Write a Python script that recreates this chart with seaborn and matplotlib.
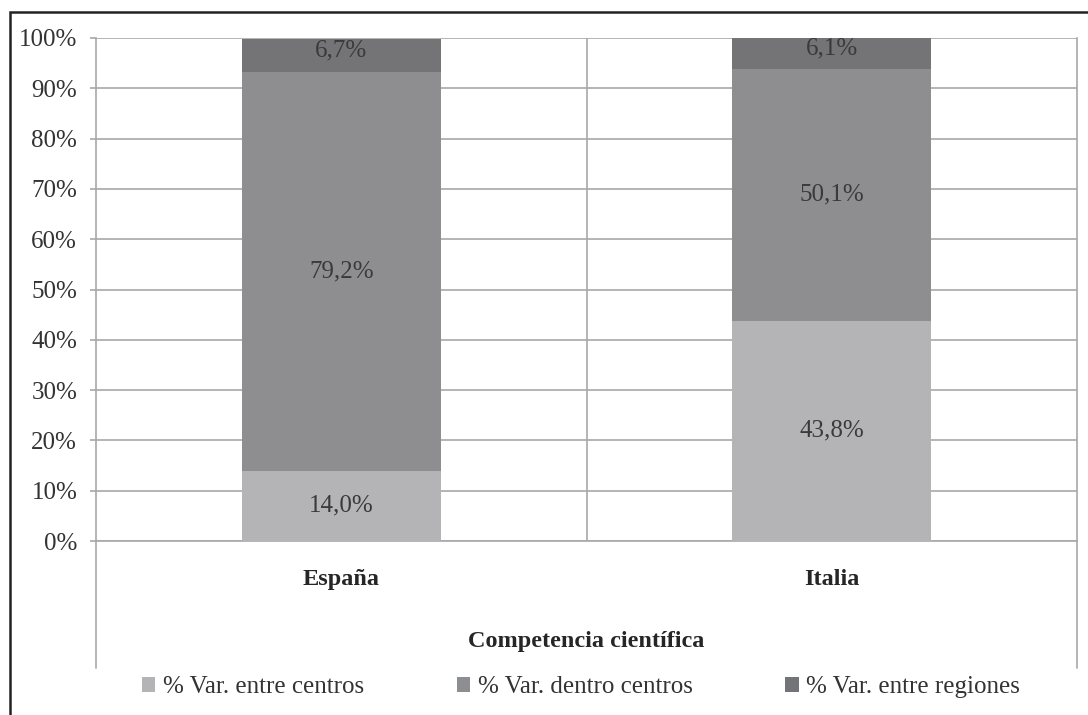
import matplotlib
matplotlib.use("Agg")
import matplotlib.pyplot as plt
from matplotlib.patches import Rectangle, Patch
from matplotlib.lines import Line2D
import seaborn as sns
import pandas as pd

# Variance decomposition (%) of science competence, by country
paises = ["España", "Italia"]
entre_centros = [14.0, 43.8]
dentro_centros = [79.2, 50.1]
entre_regiones = [6.7, 6.1]
series = ["% Var. entre centros", "% Var. dentro centros", "% Var. entre regiones"]
eje_titulo = "Competencia científica"
yticks = list(range(0, 101, 10))

colores = ["#b4b4b6", "#8d8e92", "#737478"]
gris_linea = "#a8a8a8"
W, H = 1088, 715
FS = 18

sns.set_theme(style="white")
plt.rcParams["font.family"] = ["Liberation Serif", "DejaVu Serif"]

df = pd.DataFrame({
    "pais": paises,
    series[0]: entre_centros,
    series[1]: dentro_centros,
    series[2]: entre_regiones,
})

fig = plt.figure(figsize=(W / 100, H / 100), dpi=100)
fig.patch.set_facecolor("white")
ax = fig.add_axes([96 / W, 1 - 541 / H, (1077 - 96) / W, (541 - 38) / H])

# stacked segments
base = [0.0] * len(paises)
for serie, color in zip(series, colores):
    sns.barplot(data=df, x="pais", y=serie, bottom=base, color=color,
                width=0.405, errorbar=None, ax=ax, zorder=3, linewidth=0)
    alto = df[serie].tolist()
    for i, (b, v) in enumerate(zip(base, alto)):
        desplaz = 3.5 if serie == series[2] else 0
        ax.annotate(f"{v:.1f}%".replace(".", ","), xy=(i, b + v / 2),
                    xytext=(0, desplaz), textcoords="offset points",
                    ha="center", va="center", fontsize=FS, color="#3a3a3a",
                    zorder=5)
    base = [b + v for b, v in zip(base, alto)]

ax.set_ylim(0, 100)
ax.set_xlim(-0.5, 1.5)
ax.set_yticks(yticks)
ax.set_yticklabels([f"{t}%" for t in yticks])
ax.set_ylabel("")
ax.set_xlabel("")

ax.yaxis.grid(True, color=gris_linea, lw=1.2)
ax.set_axisbelow(True)
ax.axvline(0.5, color=gris_linea, lw=1.2, zorder=1)
for lado in ["left", "right", "bottom"]:
    ax.spines[lado].set_color(gris_linea)
    ax.spines[lado].set_linewidth(1.2)
ax.spines["top"].set_visible(False)

ax.tick_params(axis="y", length=4.5, width=1.2, color=gris_linea,
               labelsize=FS, labelcolor="#333333", pad=9, left=True)
ax.tick_params(axis="x", length=0, labelsize=17.5, labelcolor="#262626", pad=20)
for lab in ax.get_xticklabels():
    lab.set_fontweight("bold")

# category-axis frame lines below the plot area
for xa in (0, 1):
    ax.add_line(Line2D([xa, xa], [0, -(668 - 541) / (541 - 38)],
                       transform=ax.transAxes, color=gris_linea, lw=1.2,
                       clip_on=False))

ax.text(0.5, -(641 - 541) / (541 - 38), eje_titulo, transform=ax.transAxes,
        ha="center", va="center", fontsize=17.5, fontweight="bold",
        color="#262626")

handles = [Patch(facecolor=c, edgecolor="none") for c in colores]
fig.legend(handles, series, loc="center", bbox_to_anchor=(581 / W, 1 - 687 / H),
           ncol=3, frameon=False, fontsize=FS, handlelength=0.55,
           handleheight=0.55, handletextpad=0.3, columnspacing=3.7,
           labelcolor="#333333")

# outer frame
fig.patches.append(Rectangle((10 / W, -0.1), 1.2, 1.1 - 12 / H, fill=False,
                             lw=1.8, ec="#222222", transform=fig.transFigure))

fig.savefig("out.png", dpi=100)
